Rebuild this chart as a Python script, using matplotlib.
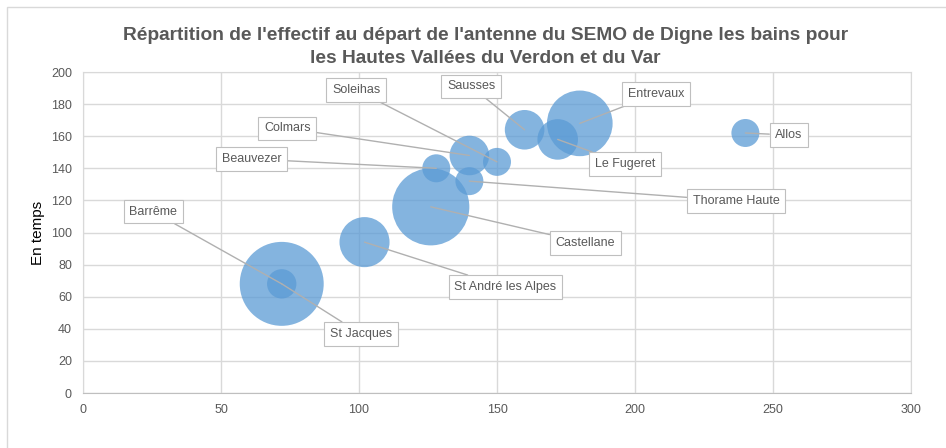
import numpy as np
import matplotlib
matplotlib.use("Agg")
import matplotlib.pyplot as plt
from matplotlib.patches import Rectangle

# donnees
communes = ["Barrême", "St Jacques", "St André les Alpes", "Castellane",
            "Beauvezer", "Thorame Haute", "Colmars", "Soleihas",
            "Sausses", "Le Fugeret", "Entrevaux", "Allos"]
distance = [72, 72, 102, 126, 128, 140, 140, 150, 160, 172, 180, 240]
temps = [68, 68, 94, 116, 140, 132, 148, 144, 164, 158, 168, 162]
effectif = [90, 11, 32, 76, 10, 10, 20, 10, 20, 21, 55, 10]

# position des etiquettes (en unites des axes)
lab_x = [25.4, 100.7, 153, 182, 61.2, 236.6, 74, 99, 140.6, 196.4, 207.6, 255.8]
lab_y = [113, 36.8, 66, 93.5, 145.8, 119.6, 165, 188.8, 191, 142.7, 186.3, 160.7]

grey = "#595959"

fig = plt.figure(figsize=(9.46, 4.48), dpi=100)
fig.patches.append(Rectangle((7/946, -0.5), 1.2, 1 - 7/448 + 0.5,
                             transform=fig.transFigure, fill=False,
                             edgecolor="#d9d9d9", lw=1.0))
ax = fig.add_axes([83/946, 1 - 393/448, 828/946, 321/448])

ax.scatter(distance, temps, s=np.array(effectif) * 40.6, color="#5b9bd5",
           alpha=0.75, edgecolors="none", zorder=3)

for i, nom in enumerate(communes):
    ax.annotate(nom, xy=(distance[i], temps[i]), xytext=(lab_x[i], lab_y[i]),
                ha="center", va="center", fontsize=9, color=grey,
                family="Liberation Sans",
                bbox=dict(boxstyle="square,pad=0.45", fc="white", ec="#bfbfbf", lw=0.8),
                arrowprops=dict(arrowstyle="-", color="#b0b0b0", lw=1.0,
                                shrinkA=0, shrinkB=0),
                zorder=5)

ax.set_xlim(0, 300)
ax.set_ylim(0, 200)
ax.set_xticks(np.arange(0, 301, 50))
ax.set_yticks(np.arange(0, 201, 20))
ax.grid(True, color="#d9d9d9", lw=1.0, zorder=0)
ax.set_axisbelow(True)
for side in ["top", "right", "left"]:
    ax.spines[side].set_color("#d9d9d9")
ax.spines["bottom"].set_color("#bfbfbf")
ax.tick_params(length=0, colors=grey, labelsize=9, pad=8)
for lbl in ax.get_xticklabels() + ax.get_yticklabels():
    lbl.set_family("Liberation Sans")

ax.set_ylabel("En temps", fontsize=11, color="black", family="Liberation Sans", labelpad=4)

fig.text(0.513, 1 - 47/448,
         "Répartition de l'effectif au départ de l'antenne du SEMO de Digne les bains pour\n"
         "les Hautes Vallées du Verdon et du Var",
         ha="center", va="center", fontsize=13.8, fontweight="bold", color=grey,
         family="Liberation Sans", linespacing=1.5)

fig.savefig("out.png", dpi=100)
